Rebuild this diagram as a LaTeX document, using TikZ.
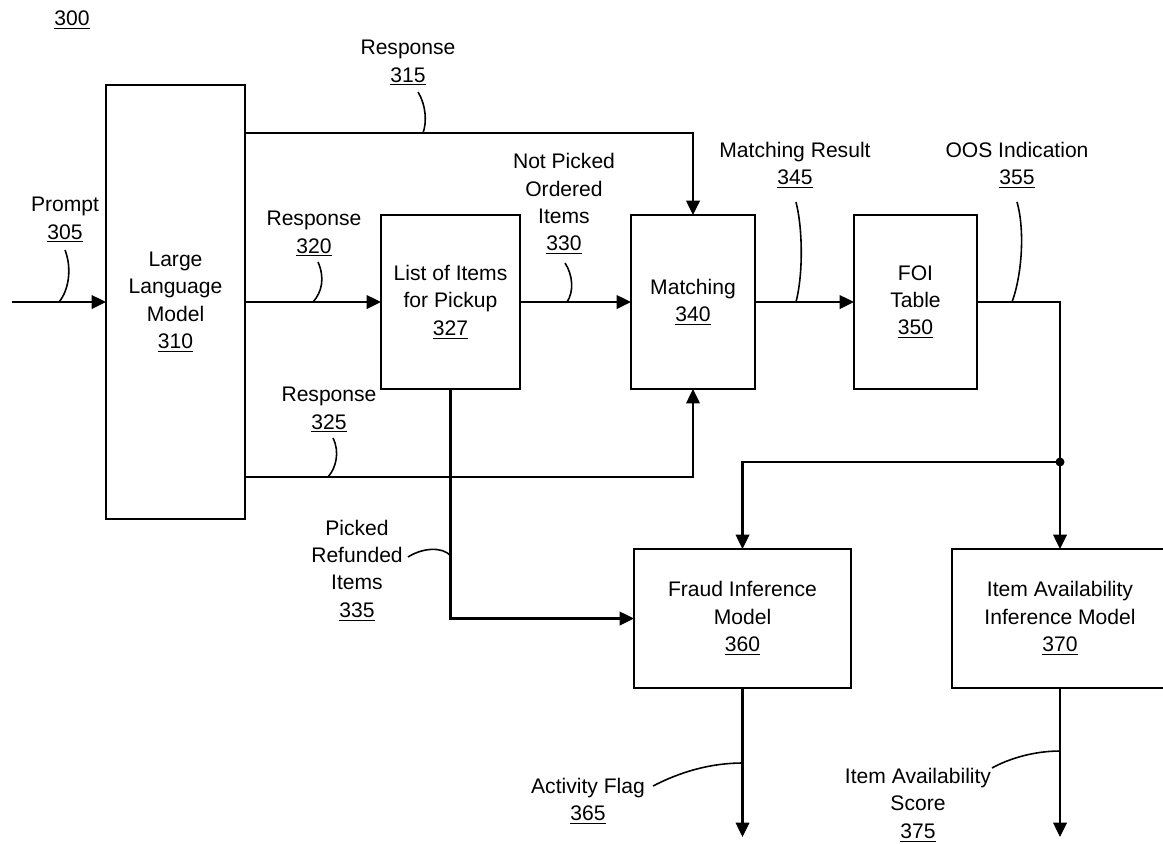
\documentclass[tikz,border=0pt]{standalone}
\usepackage{fontspec}
\setmainfont{Liberation Sans}
\usetikzlibrary{arrows.meta,calc}
\begin{document}
\begin{tikzpicture}[x=0.02cm,y=-0.02cm,
  every node/.style={font=\fontsize{12}{15.6}\selectfont, inner sep=0pt, outer sep=0pt, align=center},
  box/.style={draw, line width=1.3pt},
  conn/.style={line width=1.4pt},
  arr/.style={conn, -{Triangle[length=2.9mm,width=2.7mm]}},
  lead/.style={line width=0.9pt},
  jdot/.style={circle, fill, minimum size=0.18cm}
]
\useasboundingbox (0,0) rectangle (1163,843);
\begin{scope}
\clip (0,0) rectangle (1163,843);
% boxes
\node[box, minimum width=2.78cm, minimum height=8.68cm] (llm) at (175.5,302) {Large\\Language\\Model\\\underline{310}};
\node[box, minimum width=2.78cm, minimum height=3.48cm] (list) at (450.5,302) {List of Items\\for Pickup\\\underline{327}};
\node[box, minimum width=2.48cm, minimum height=3.48cm] (match) at (693,302) {Matching\\\underline{340}};
\node[box, minimum width=2.46cm, minimum height=3.48cm] (foi) at (915.5,302) {FOI\\Table\\\underline{350}};
\node[box, minimum width=4.34cm, minimum height=2.78cm] (fraud) at (742.5,618.5) {Fraud Inference\\Model\\\underline{360}};
\node[box, minimum width=4.32cm, minimum height=2.78cm] (item) at (1060,618.5) {Item Availability\\Inference Model\\\underline{370}};
\node[jdot] (dot) at (1060,462) {};
\coordinate (in305) at (12,302);
\coordinate (o365) at (742.5,837);
\coordinate (o375) at (1060,837);

% labels
\node (l300) at (72,20) {\underline{300}};
\node (l315) at (408,63) {Response\\\underline{315}};
\node (l305) at (65,220) {Prompt\\\underline{305}};
\node (l320) at (314,234) {Response\\\underline{320}};
\node (l330) at (564,204) {Not Picked\\Ordered\\Items\\\underline{330}};
\node (l345) at (795,165) {Matching Result\\\underline{345}};
\node (l355) at (1017,165) {OOS Indication\\\underline{355}};
\node (l325) at (329,410) {Response\\\underline{325}};
\node (l335) at (357,570.5) {Picked\\Refunded\\Items\\\underline{335}};
\node (l365) at (588,801) {Activity Flag\\\underline{365}};
\node (l375) at (918,805) {Item Availability\\Score\\\underline{375}};

% connectors
\draw[arr] (in305) -- (llm.west);
\draw[arr] (llm.east |- 0,133) -| (match.north);
\draw[arr] (llm.east) -- (list.west);
\draw[arr] (list.east) -- (match.west);
\draw[arr] (match.east) -- (foi.west);
\draw[conn] (foi.east) -| (dot.center);
\draw[arr] (dot.center) -- (item.north);
\draw[arr] (dot.center) -| (fraud.north);
\draw[arr] (llm.east |- 0,477) -| (match.south);
\draw[arr] (list.south) |- (fraud.west);
\draw[arr] (fraud.south) -- (o365);
\draw[arr] (item.south) -- (o375);

% leaders
\draw[lead] (65,250) .. controls (72,268) and (69,290) .. (59,302);
\draw[lead] (418,92) .. controls (426,105) and (427,122) .. (423,133);
\draw[lead] (318,262) .. controls (325,278) and (322,292) .. (313,302);
\draw[lead] (565,263) .. controls (573,275) and (574,292) .. (567,302);
\draw[lead] (796,202) .. controls (803,230) and (803,275) .. (796,302);
\draw[lead] (1017,202) .. controls (1025,230) and (1022,275) .. (1012,302);
\draw[lead] (333,438) .. controls (340,452) and (336,468) .. (328,477);
\draw[lead] (408,557) .. controls (422,548) and (442,546) .. (451,556);
\draw[lead] (653,786) .. controls (680,772) and (710,763) .. (743,763);
\draw[lead] (992,768) .. controls (1010,758) and (1035,751) .. (1060,751);
\end{scope}
\end{tikzpicture}
\end{document}
